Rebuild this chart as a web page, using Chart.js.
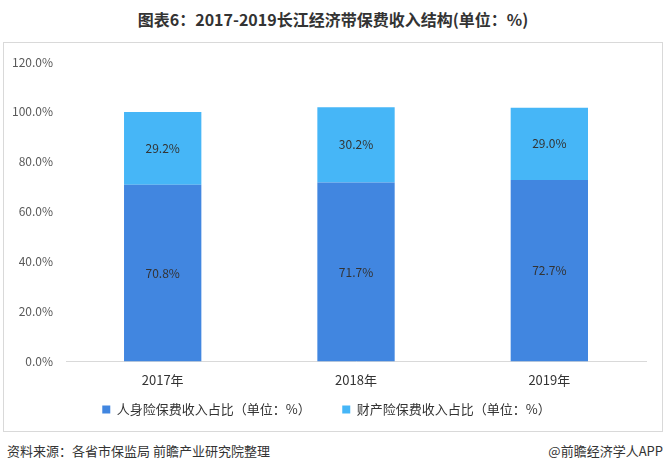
<!DOCTYPE html>
<html>
<head>
<meta charset="utf-8">
<script src="https://cdn.jsdelivr.net/npm/chart.js@4.4.1/dist/chart.umd.min.js"></script>
<style>
  body { margin: 0; background: #fff; font-family: "Noto Sans CJK SC", sans-serif; }
  #wrap { position: relative; width: 666px; height: 472px; }
  #title { position: absolute; top: 7px; left: 0; width: 666px; text-align: center;
           font-size: 16px; font-weight: bold; color: #333; }
  #box { position: absolute; left: 3px; top: 42px; width: 658px; height: 388px;
         border: 1px solid #d9d9d9; }
  #source { position: absolute; left: 7px; top: 441px; font-size: 13px; color: #333; }
  #brand { position: absolute; right: 3px; top: 441px; font-size: 13px; color: #333; }
</style>
</head>
<body>
<div id="wrap">
  <div id="title">图表6：2017-2019长江经济带保费收入结构(单位：%)</div>
  <div id="box"><canvas id="chart"></canvas></div>
  <div id="source">资料来源：各省市保监局 前瞻产业研究院整理</div>
  <div id="brand">@前瞻经济学人APP</div>
</div>
<script>
let years = ["2017年", "2018年", "2019年"];
let lifeShare = [70.8, 71.7, 72.7];
let propertyShare = [29.2, 30.2, 29.0];
let seriesNames = ["人身险保费收入占比（单位：%）", "财产险保费收入占比（单位：%）"];

// draws the value in the middle of each bar
let barLabels = {
  id: "barLabels",
  afterDatasetsDraw(chart) {
    let ctx = chart.ctx;
    ctx.save();
    ctx.font = "12px 'Noto Sans CJK SC'";
    ctx.fillStyle = "#333";
    ctx.textAlign = "center";
    ctx.textBaseline = "middle";
    chart.data.datasets.forEach((ds, i) => {
      chart.getDatasetMeta(i).data.forEach((bar, j) => {
        let mid = (bar.y + bar.base) / 2;
        ctx.fillText(ds.data[j].toFixed(1) + "%", bar.x, mid);
      });
    });
    ctx.restore();
  }
};

let ctx = document.getElementById("chart").getContext("2d");
let graph = new Chart(ctx, {
  type: "bar",
  data: {
    labels: years,
    datasets: [
      { label: seriesNames[0], data: lifeShare, backgroundColor: "#4186e0" },
      { label: seriesNames[1], data: propertyShare, backgroundColor: "#46b6f7" }
    ]
  },
  options: {
    responsive: true,
    maintainAspectRatio: false,
    animation: false,
    layout: { padding: { left: 3, right: 16, top: 19, bottom: 5 } },
    datasets: { bar: { categoryPercentage: 1, barPercentage: 0.4 } },
    scales: {
      x: {
        stacked: true,
        grid: { display: false },
        border: { display: true, color: "#d9d9d9" },
        ticks: { color: "#333", font: { size: 13, family: "Noto Sans CJK SC" }, padding: 3 }
      },
      y: {
        stacked: true,
        min: 0,
        max: 120,
        grid: { display: false },
        border: { display: false },
        ticks: {
          stepSize: 20,
          color: "#595959",
          padding: 5,
          font: { size: 12, family: "Noto Sans CJK SC" },
          callback: v => v.toFixed(1) + "%"
        }
      }
    },
    plugins: {
      legend: {
        position: "bottom",
        labels: {
          boxWidth: 8,
          boxHeight: 8,
          padding: 12,
          color: "#333",
          font: { size: 13, family: "Noto Sans CJK SC" },
          generateLabels(chart) {
            let items = Chart.defaults.plugins.legend.labels.generateLabels(chart);
            // wider gap after the first item, as in the original
            items[0].text += "\u3000\u3000";
            return items;
          }
        }
      },
      tooltip: { enabled: false }
    }
  },
  plugins: [barLabels]
});
</script>
</body>
</html>
